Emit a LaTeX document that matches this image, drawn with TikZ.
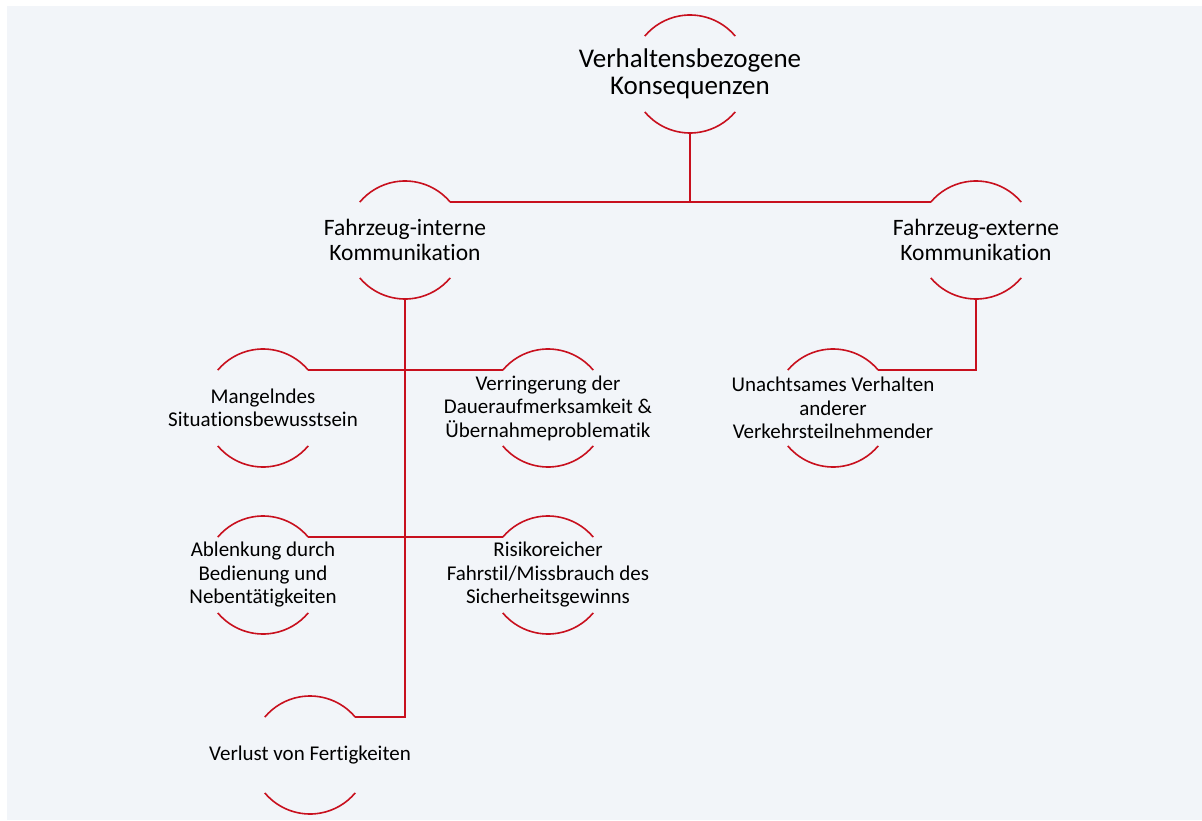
\documentclass[tikz,border=0pt]{standalone}
\usepackage{fontspec}
\setmainfont{Carlito}[Ligatures=NoCommon]
\definecolor{bgc}{RGB}{242,245,249}
\definecolor{redc}{RGB}{200,16,30}
\begin{document}
\begin{tikzpicture}[x=1pt,y=1pt,
  ring/.style={circle,minimum size=118pt,inner sep=0pt,outer sep=0pt},
  lbl/.style={align=center,inner sep=0pt,text=black},
  big/.style={lbl,font=\fontsize{27}{27.5}\selectfont},
  mid/.style={lbl,font=\fontsize{23.5}{25}\selectfont},
  sml/.style={lbl,font=\fontsize{21}{23.5}\selectfont},
  arcl/.style={draw=redc,line width=1.6pt},
  conn/.style={draw=redc,line width=1.6pt}]
\useasboundingbox (0,0) rectangle (1202,-821);
\fill[bgc] (7,-6) rectangle (1202,-820);
% rings
\node[ring] (top) at (690,-74) {};
\node[ring] (int) at (405,-240) {};
\node[ring] (ext) at (976,-240) {};
\node[ring] (mang) at (263,-408) {};
\node[ring] (verr) at (548,-408) {};
\node[ring] (unach) at (833,-408) {};
\node[ring] (abl) at (263,-575) {};
\node[ring] (risk) at (548,-575) {};
\node[ring] (verl) at (310,-755) {};
% arcs
\foreach \n in {top,int,ext,mang,verr,unach,abl,risk,verl}{
  \draw[arcl] (\n.40) arc[start angle=40,end angle=140,radius=59];
  \draw[arcl] (\n.220) arc[start angle=220,end angle=320,radius=59];
}
% labels
\node[big] (tTop) at (top) {Verhaltensbezogene\\Konsequenzen};
\node[mid] (tInt) at (int) {Fahrzeug-interne\\Kommunikation};
\node[mid] (tExt) at (ext) {Fahrzeug-externe\\Kommunikation};
\node[sml] (tMang) at (mang) {Mangelndes\\Situationsbewusstsein};
\node[sml] (tVerr) at (verr) {Verringerung der\\Daueraufmerksamkeit \&\\Übernahmeproblematik};
\node[sml] (tUnach) at (unach) {Unachtsames Verhalten\\anderer\\Verkehrsteilnehmender};
\node[sml] (tAbl) at (abl) {Ablenkung durch\\Bedienung und\\Nebentätigkeiten};
\node[sml] (tRisk) at (risk) {Risikoreicher\\Fahrstil/Missbrauch des\\Sicherheitsgewinns};
\node[sml] (tVerl) at (verl) {Verlust von Fertigkeiten};
% connectors
\draw[conn] (int.40) -- (ext.140);
\draw[conn] (top.south) -- (top.south |- int.40);
\draw[conn] (mang.40) -- (verr.140);
\draw[conn] (abl.40) -- (risk.140);
\draw[conn] (int.south) |- (verl.40);
\draw[conn] (ext.south) |- (unach.40);
\end{tikzpicture}
\end{document}
